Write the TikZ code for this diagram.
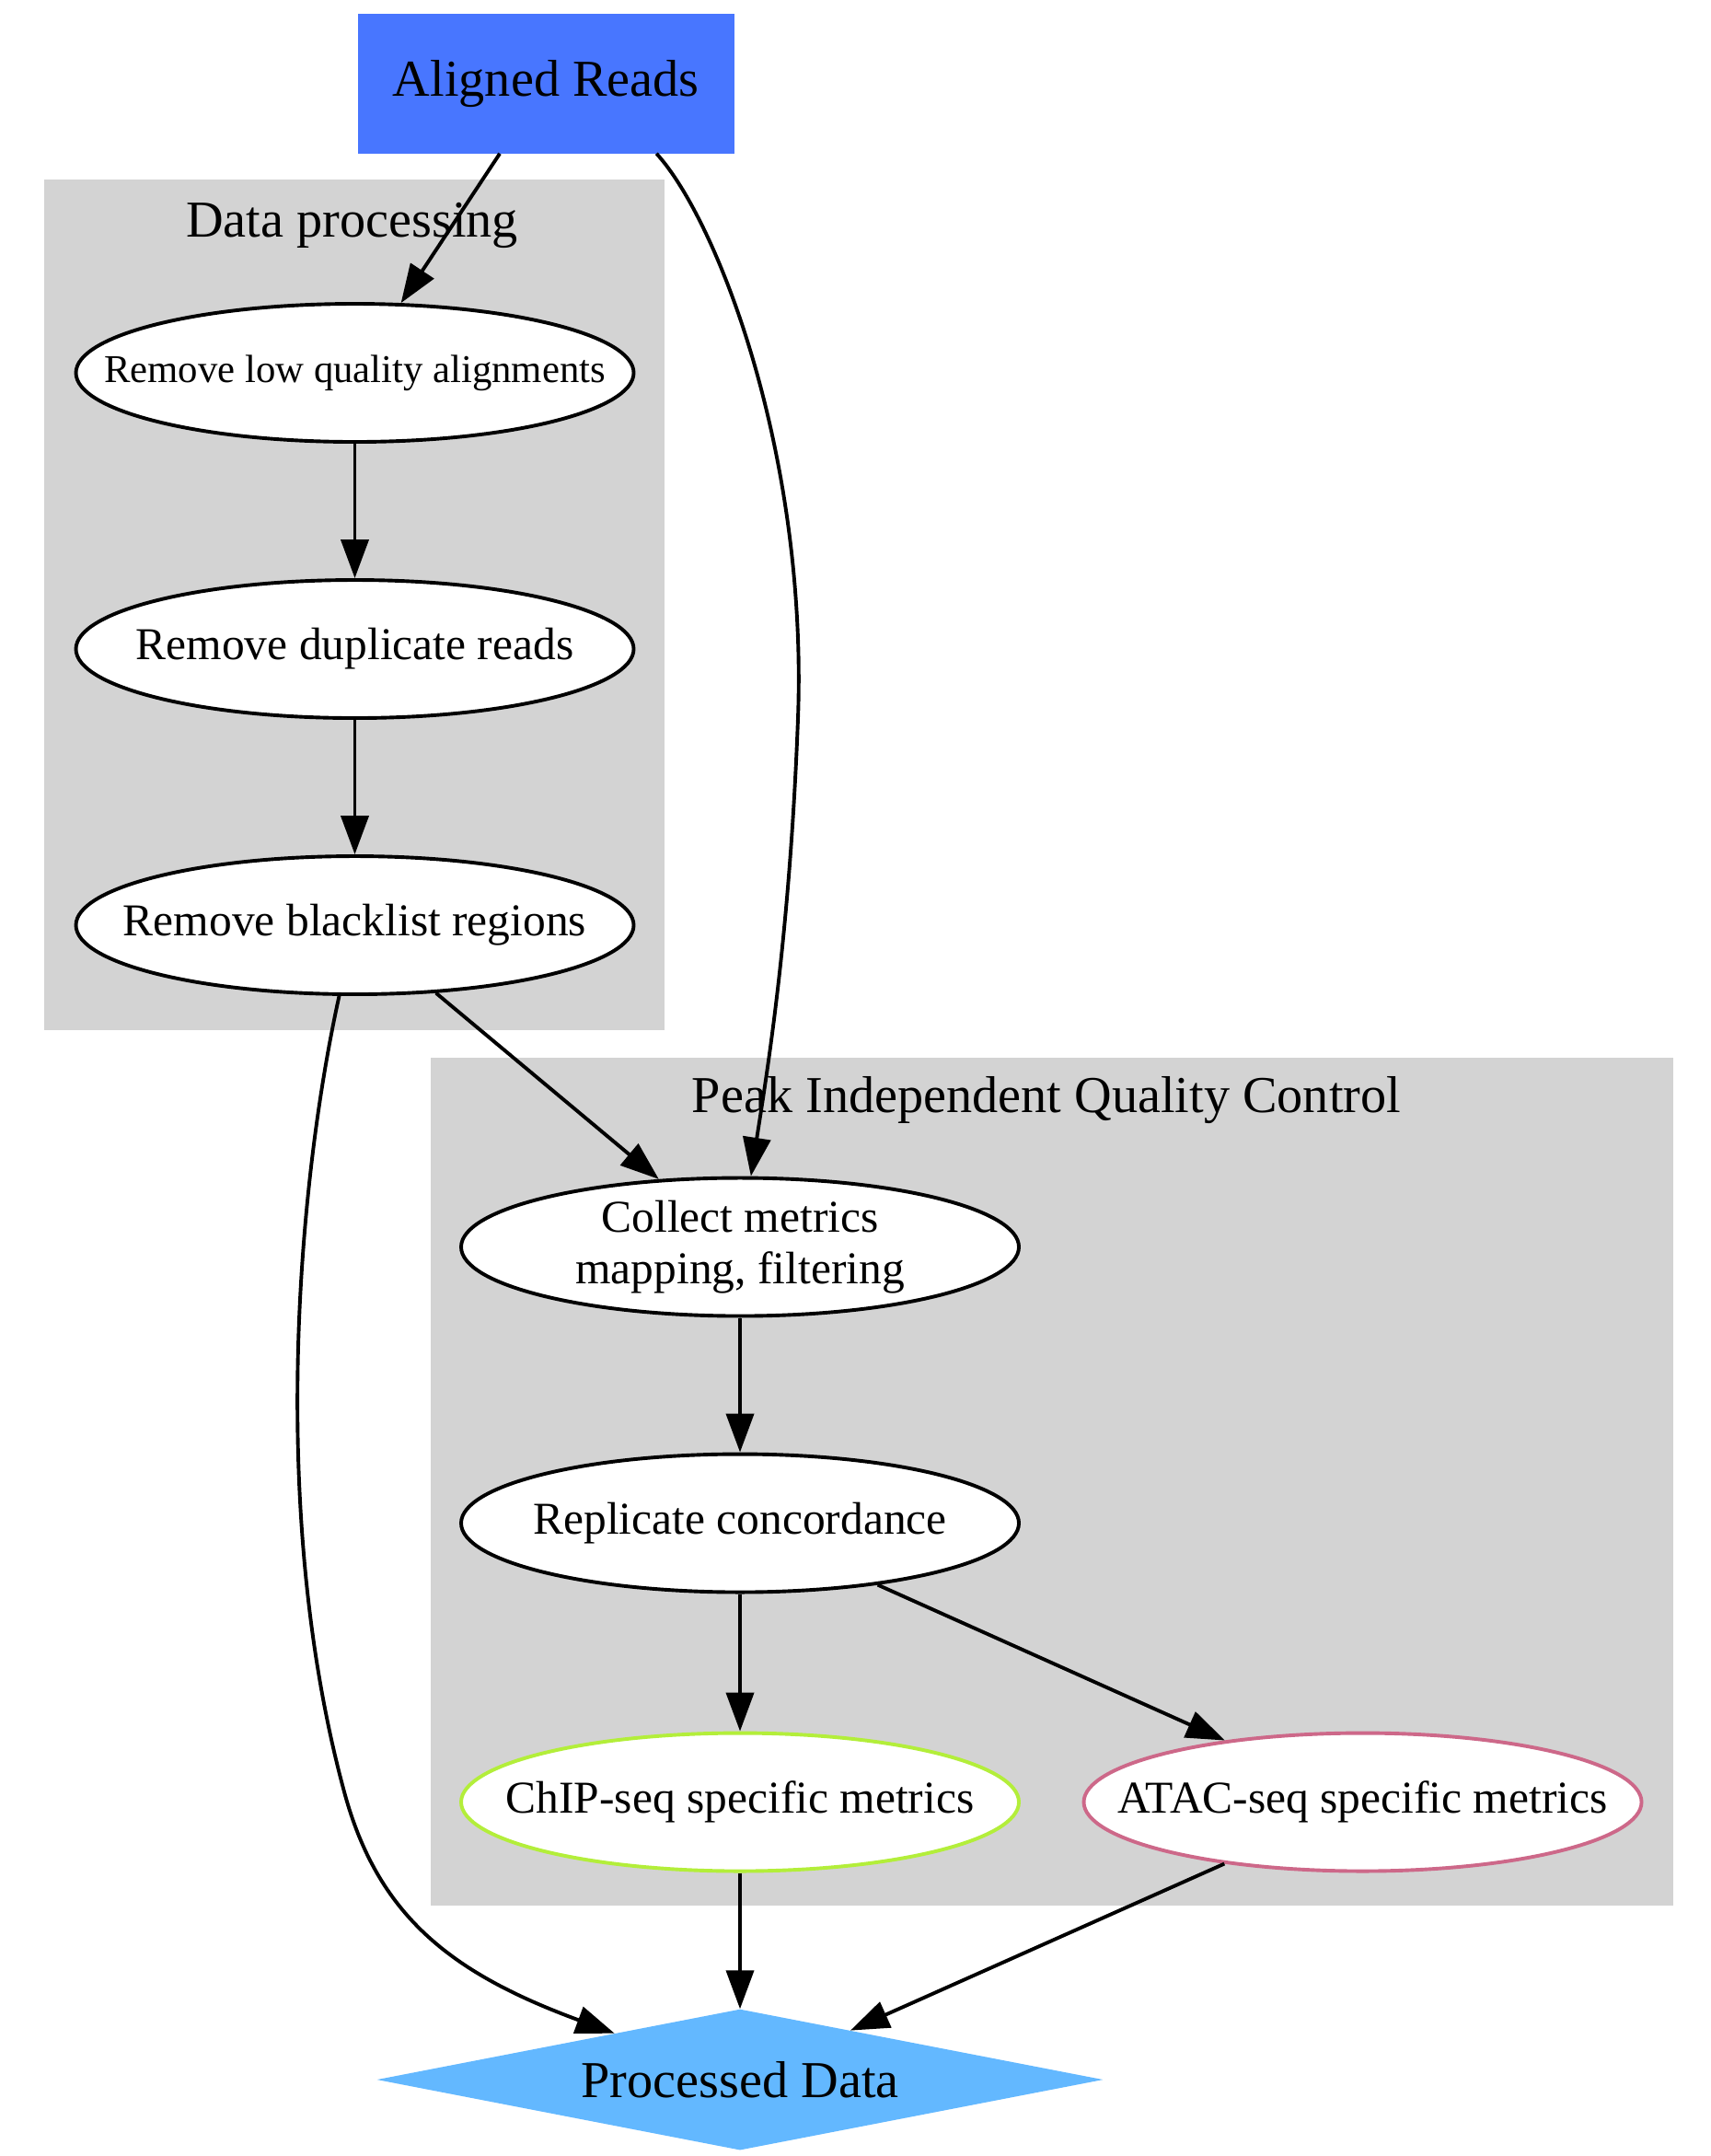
\documentclass[tikz,border=0pt]{standalone}
\usepackage{fontspec}
\setmainfont{Liberation Serif}
\usetikzlibrary{shapes.geometric, arrows.meta}
\definecolor{readsblue}{HTML}{4876FF}
\definecolor{dataBlue}{HTML}{63B8FF}
\definecolor{clustergray}{HTML}{D3D3D3}
\definecolor{chipgreen}{HTML}{B3EE3A}
\definecolor{atacpink}{HTML}{CD6889}

\begin{document}
\begin{tikzpicture}[x=1pt, y=-1pt,
        every node/.style={font=\fontsize{33}{37}\selectfont},
        stepnode/.style={ellipse, draw, line width=2.6pt, fill=white, inner sep=0pt, minimum width=404pt, minimum height=100pt, label={[align=center]center:#1}},
        edge/.style={line width=2.6pt, -{Triangle[length=28pt, width=20pt]}}]
        \useasboundingbox (0, 0) rectangle (1238.7, 1561.3);

        % clusters
        \fill[clustergray] (32, 130) rectangle (481, 746);
        \fill[clustergray] (312, 766) rectangle (1212, 1380);
        \node[font=\fontsize{37.5}{40}\selectfont] (proclabel) at (255, 163) {Data processing};
        \node[font=\fontsize{37.5}{40}\selectfont] (qclabel) at (758, 797) {Peak Independent Quality Control};

        \node[fill=readsblue, inner sep=0pt, minimum width=273pt, minimum height=101pt, font=\fontsize{37.5}{40}\selectfont] (aligned) at (395.5, 60.5) {Aligned Reads};
        \node[stepnode={\fontsize{28.5}{32}\selectfont Remove low quality alignments}] (lowqual) at (257, 270) {};
        \node[stepnode={Remove duplicate reads}] (dups) at (257, 470) {};
        \node[stepnode={Remove blacklist regions}] (blacklist) at (257, 670) {};
        \node[stepnode={Collect metrics\\mapping, filtering}] (collect) at (536, 903) {};
        \node[stepnode={Replicate concordance}] (concord) at (536, 1103) {};
        \node[stepnode={ChIP-seq specific metrics}, draw=chipgreen] (chip) at (536, 1305) {};
        \node[stepnode={ATAC-seq specific metrics}, draw=atacpink] (atac) at (987, 1305) {};
        \node[diamond, fill=dataBlue, inner sep=0pt, shape aspect=5, minimum width=526pt, minimum height=102pt, font=\fontsize{37.5}{40}\selectfont] (processed) at (536, 1506) {Processed Data};

        \draw[edge] (aligned) -- (lowqual);
        \draw[edge] ([xshift=80pt]aligned.south) .. controls (520, 160) and (585, 330) .. (578, 520) .. controls (572, 680) and (555, 780) .. (collect);
        \draw[edge] (lowqual) -- (dups);
        \draw[edge] (dups) -- (blacklist);
        \draw[edge] (blacklist) -- (collect);
        \draw[edge] (blacklist) .. controls (215, 860) and (195, 1100) .. (250, 1300) .. controls (275, 1390) and (330, 1430) .. (processed);
        \draw[edge] (collect) -- (concord);
        \draw[edge] (concord) -- (chip);
        \draw[edge] (concord) -- (atac);
        \draw[edge] (chip) -- (processed);
        \draw[edge] (atac) -- (processed);
    \end{tikzpicture}
\end{document}
